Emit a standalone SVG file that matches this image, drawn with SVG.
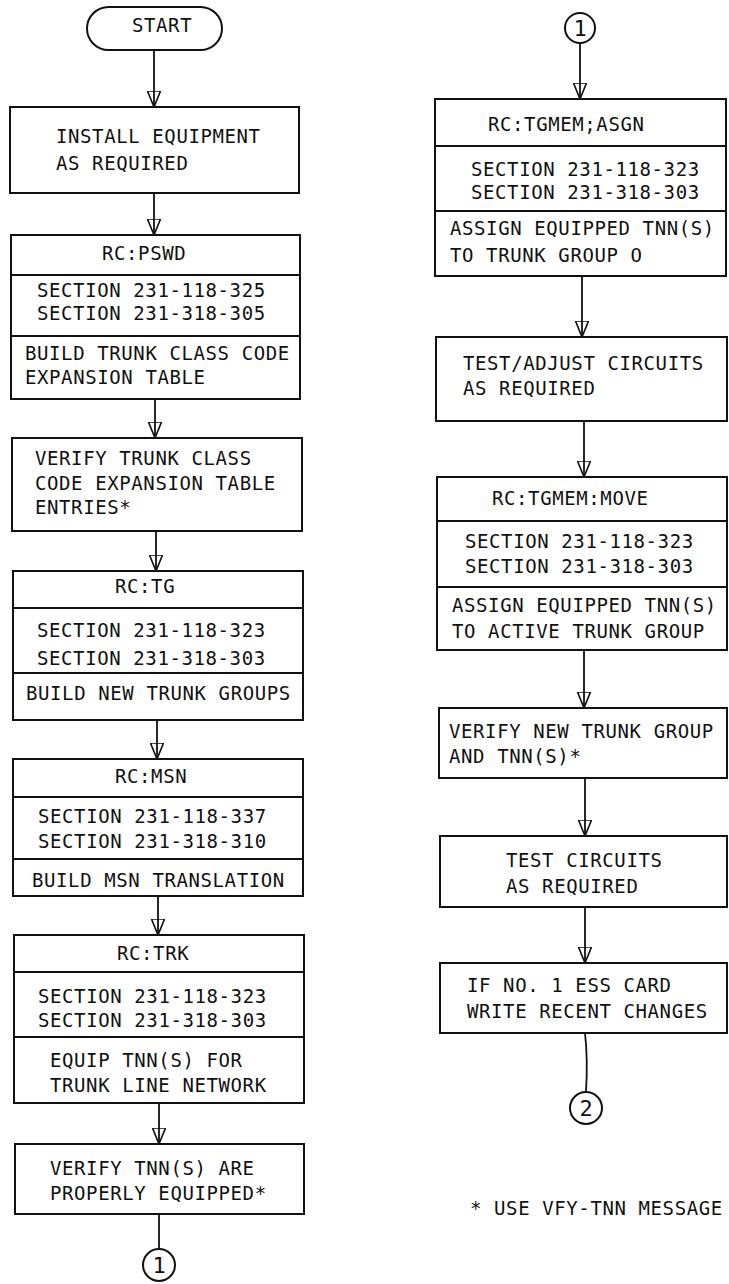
<svg xmlns="http://www.w3.org/2000/svg" width="729" height="1284" viewBox="0 0 729 1284">
<style>
.b{fill:#fff;stroke:#111;stroke-width:2}
.d{stroke:#111;stroke-width:2}
.c{fill:none;stroke:#111;stroke-width:1.8}
text{font-family:"DejaVu Sans Mono","Liberation Mono",monospace;font-size:19px;letter-spacing:0.6px;fill:#111}
.m{text-anchor:middle;font-size:22px;letter-spacing:0}
</style>
<defs>
<marker id="ah" viewBox="0 0 17 14" refX="16.5" refY="7" markerWidth="17" markerHeight="14" markerUnits="userSpaceOnUse" orient="auto">
<path d="M0.5,0.5 L16.5,7 L0.5,13.5 Z" fill="none" stroke="#111" stroke-width="1.6"/>
</marker>
</defs>
<rect width="729" height="1284" fill="#fff"/>
<g id="connectors">
<path class="c" d="M154,50 V107" marker-end="url(#ah)"/>
<path class="c" d="M154,193 V235" marker-end="url(#ah)"/>
<path class="c" d="M155,399 V438" marker-end="url(#ah)"/>
<path class="c" d="M156,531 V571" marker-end="url(#ah)"/>
<path class="c" d="M157,720 V759" marker-end="url(#ah)"/>
<path class="c" d="M158,896 V935" marker-end="url(#ah)"/>
<path class="c" d="M159,1103 V1144" marker-end="url(#ah)"/>
<path class="c" d="M159,1214 V1249"/>
<path class="c" d="M580,43 V99" marker-end="url(#ah)"/>
<path class="c" d="M582,276 V337" marker-end="url(#ah)"/>
<path class="c" d="M584,421 V477" marker-end="url(#ah)"/>
<path class="c" d="M584,650 V708" marker-end="url(#ah)"/>
<path class="c" d="M585,778 V836" marker-end="url(#ah)"/>
<path class="c" d="M585,907 V963" marker-end="url(#ah)"/>
<path class="c" d="M585,1033 Q588,1060 586,1092"/>
</g>
<g id="start">
<rect class="b" x="87" y="7" width="135" height="43" rx="21.5"/>
<text x="132" y="32">START</text>
</g>
<g id="install">
<rect class="b" x="10" y="107" width="289" height="86"/>
<text x="56" y="143">INSTALL EQUIPMENT</text>
<text x="56" y="170">AS REQUIRED</text>
</g>
<g id="pswd">
<rect class="b" x="11" y="235" width="289" height="164"/>
<line class="d" x1="11" y1="275" x2="300" y2="275"/>
<line class="d" x1="11" y1="336" x2="300" y2="336"/>
<text x="102" y="260">RC:PSWD</text>
<text x="37" y="297">SECTION 231-118-325</text>
<text x="37" y="320">SECTION 231-318-305</text>
<text x="25" y="360">BUILD TRUNK CLASS CODE</text>
<text x="25" y="384">EXPANSION TABLE</text>
</g>
<g id="verify-tcc">
<rect class="b" x="12" y="438" width="290" height="93"/>
<text x="35" y="465">VERIFY TRUNK CLASS</text>
<text x="35" y="490">CODE EXPANSION TABLE</text>
<text x="35" y="514">ENTRIES*</text>
</g>
<g id="tg">
<rect class="b" x="13" y="571" width="290" height="149"/>
<line class="d" x1="13" y1="608" x2="303" y2="608"/>
<line class="d" x1="13" y1="673" x2="303" y2="673"/>
<text x="115" y="593">RC:TG</text>
<text x="37" y="637">SECTION 231-118-323</text>
<text x="37" y="665">SECTION 231-318-303</text>
<text x="26" y="700">BUILD NEW TRUNK GROUPS</text>
</g>
<g id="msn">
<rect class="b" x="13" y="759" width="290" height="137"/>
<line class="d" x1="13" y1="797" x2="303" y2="797"/>
<line class="d" x1="13" y1="859" x2="303" y2="859"/>
<text x="115" y="783">RC:MSN</text>
<text x="38" y="823">SECTION 231-118-337</text>
<text x="38" y="848">SECTION 231-318-310</text>
<text x="32" y="887">BUILD MSN TRANSLATION</text>
</g>
<g id="trk">
<rect class="b" x="14" y="935" width="290" height="168"/>
<line class="d" x1="14" y1="972" x2="304" y2="972"/>
<line class="d" x1="14" y1="1037" x2="304" y2="1037"/>
<text x="117" y="960">RC:TRK</text>
<text x="38" y="1003">SECTION 231-118-323</text>
<text x="38" y="1027">SECTION 231-318-303</text>
<text x="50" y="1067">EQUIP TNN(S) FOR</text>
<text x="50" y="1092">TRUNK LINE NETWORK</text>
</g>
<g id="verify-tnn">
<rect class="b" x="15" y="1144" width="289" height="70"/>
<text x="50" y="1175">VERIFY TNN(S) ARE</text>
<text x="50" y="1200">PROPERLY EQUIPPED*</text>
</g>
<g id="conn1-out">
<circle class="b" cx="159" cy="1265" r="16"/>
<text class="m" x="159" y="1273">1</text>
</g>
<g id="conn1-in">
<circle class="b" cx="580" cy="28" r="15"/>
<text class="m" x="580" y="36">1</text>
</g>
<g id="tgmem-asgn">
<rect class="b" x="435" y="99" width="291" height="177"/>
<line class="d" x1="435" y1="146" x2="726" y2="146"/>
<line class="d" x1="435" y1="211" x2="726" y2="211"/>
<text x="488" y="131">RC:TGMEM;ASGN</text>
<text x="471" y="176">SECTION 231-118-323</text>
<text x="471" y="199">SECTION 231-318-303</text>
<text x="450" y="235">ASSIGN EQUIPPED TNN(S)</text>
<text x="450" y="262">TO TRUNK GROUP O</text>
</g>
<g id="test-adjust">
<rect class="b" x="436" y="337" width="291" height="84"/>
<text x="463" y="370">TEST/ADJUST CIRCUITS</text>
<text x="463" y="395">AS REQUIRED</text>
</g>
<g id="tgmem-move">
<rect class="b" x="437" y="477" width="290" height="173"/>
<line class="d" x1="437" y1="521" x2="727" y2="521"/>
<line class="d" x1="437" y1="587" x2="727" y2="587"/>
<text x="492" y="505">RC:TGMEM:MOVE</text>
<text x="465" y="548">SECTION 231-118-323</text>
<text x="465" y="573">SECTION 231-318-303</text>
<text x="452" y="612">ASSIGN EQUIPPED TNN(S)</text>
<text x="452" y="638">TO ACTIVE TRUNK GROUP</text>
</g>
<g id="verify-new">
<rect class="b" x="439" y="708" width="288" height="70"/>
<text x="449" y="738">VERIFY NEW TRUNK GROUP</text>
<text x="449" y="763">AND TNN(S)*</text>
</g>
<g id="test-circuits">
<rect class="b" x="440" y="836" width="287" height="71"/>
<text x="506" y="867">TEST CIRCUITS</text>
<text x="506" y="893">AS REQUIRED</text>
</g>
<g id="write-rc">
<rect class="b" x="440" y="963" width="287" height="70"/>
<text x="467" y="992">IF NO. 1 ESS CARD</text>
<text x="467" y="1018">WRITE RECENT CHANGES</text>
</g>
<g id="conn2">
<circle class="b" cx="586" cy="1108" r="16"/>
<text class="m" x="586" y="1116">2</text>
</g>
<g id="footnote">
<text x="470" y="1215">* USE VFY-TNN MESSAGE</text>
</g>
</svg>
